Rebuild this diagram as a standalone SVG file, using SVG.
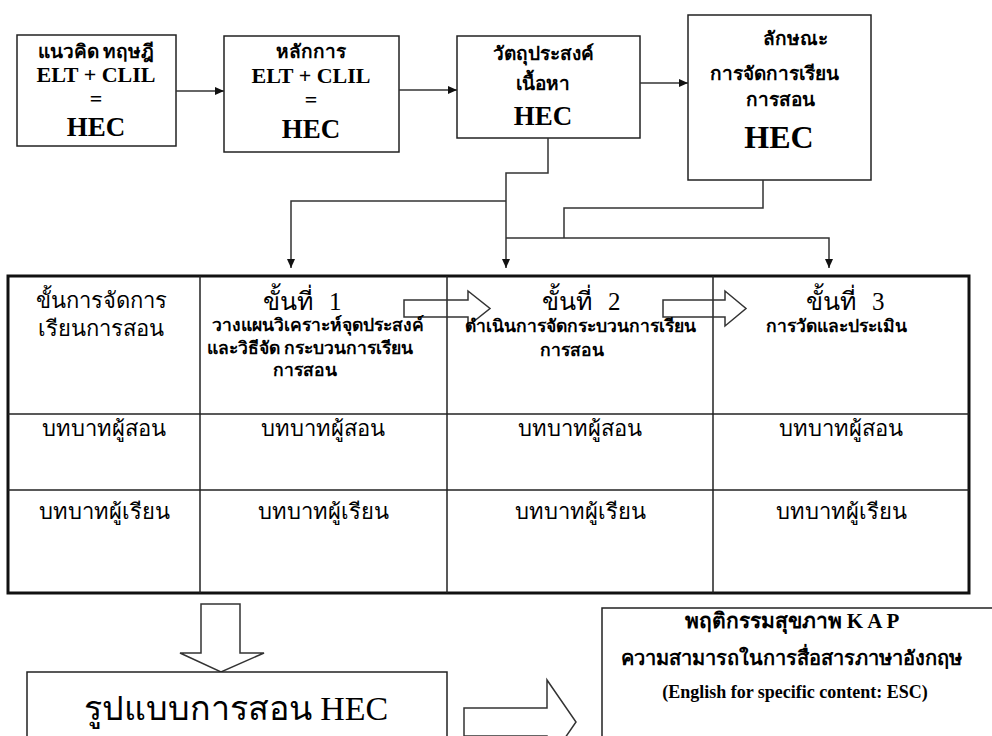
<svg xmlns="http://www.w3.org/2000/svg" width="992" height="736" viewBox="0 0 992 736">
<defs>
<marker id="ah" markerWidth="9" markerHeight="8" refX="9" refY="4" orient="auto" markerUnits="userSpaceOnUse"><path d="M0,0 L9,4 L0,8 Z" fill="#111"/></marker>
</defs>
<style>
.box{fill:#fff;stroke:#222;stroke-width:1.5}
.ln{fill:none;stroke:#333;stroke-width:1.5}
.blk{fill:none;stroke:#333;stroke-width:1.5}
.grid{stroke:#222;stroke-width:1.5}
.outer{fill:none;stroke:#111;stroke-width:3}
.t{font-family:"Liberation Serif","DejaVu Serif",serif;fill:#000;text-anchor:middle}
.b{font-weight:bold}
.th{font-size:19px}
.en{font-size:22px}
.hec{font-size:27px}
.reg{font-size:22px}
.hd{font-size:25px;word-spacing:10px}
.sm{font-size:17.5px}
</style>
<rect width="992" height="736" fill="#fff"/>

<g id="node-theory">
<rect class="box" x="17" y="35" width="159" height="111"/>
<text class="t b th" x="96" y="58">แนวคิด ทฤษฎี</text>
<text class="t b en" x="96" y="82">ELT + CLIL</text>
<text class="t b en" x="96" y="106">=</text>
<text class="t b hec" x="96" y="136">HEC</text>
</g>

<g id="node-principle">
<rect class="box" x="224" y="36" width="175" height="116"/>
<text class="t b th" x="311" y="58">หลักการ</text>
<text class="t b en" x="311" y="83">ELT + CLIL</text>
<text class="t b en" x="311" y="107">=</text>
<text class="t b hec" x="311" y="138">HEC</text>
</g>

<g id="node-objective">
<rect class="box" x="457" y="36" width="183" height="102"/>
<text class="t b th" x="543" y="60">วัตถุประสงค์</text>
<text class="t b th" x="543" y="90">เนื้อหา</text>
<text class="t b hec" x="543" y="125">HEC</text>
</g>

<g id="node-character">
<rect class="box" x="688" y="15" width="183" height="165"/>
<text class="t b th" x="795" y="45">ลักษณะ</text>
<text class="t b th" x="774" y="80">การจัดการเรียน</text>
<text class="t b th" x="780" y="106">การสอน</text>
<text class="t b" x="779" y="148" font-size="32">HEC</text>
</g>

<g id="connectors">
<line class="ln" x1="176" y1="91" x2="224" y2="91" marker-end="url(#ah)"/>
<line class="ln" x1="399" y1="90" x2="457" y2="90" marker-end="url(#ah)"/>
<line class="ln" x1="640" y1="83" x2="688" y2="83" marker-end="url(#ah)"/>
<path class="ln" d="M548,138 V173 H506 V268" marker-end="url(#ah)"/>
<path class="ln" d="M506,201 H291 V268" marker-end="url(#ah)"/>
<path class="ln" d="M763,180 V208 H564 V238"/>
<path class="ln" d="M506,238 H829 V268" marker-end="url(#ah)"/>
<path class="blk" d="M201,604 H240 V653 H264 L221,672 L180,653 H201 Z"/>
<path class="blk" d="M464,708 H547 V680 L576,722 L547,764 V736 H464 Z"/>
</g>

<g id="node-table">
<rect class="outer" x="8" y="276" width="961" height="317"/>
<line class="grid" x1="200" y1="276" x2="200" y2="593"/>
<line class="grid" x1="447" y1="276" x2="447" y2="593"/>
<line class="grid" x1="713" y1="276" x2="713" y2="593"/>
<line class="grid" x1="8" y1="414" x2="969" y2="414"/>
<line class="grid" x1="8" y1="490" x2="969" y2="490"/>
<path class="blk" d="M404,300 H468 V291 L490,308.5 L468,326 V317 H404 Z"/>
<path class="blk" d="M663,300 H725 V291 L746,308.5 L725,326 V317 H663 Z"/>
<text class="t reg" x="101" y="308">ขั้นการจัดการ</text>
<text class="t reg" x="101" y="336">เรียนการสอน</text>
<text class="t hd" x="302" y="310">ขั้นที่ 1</text>
<text class="t b sm" x="318" y="331">วางแผนวิเคราะห์จุดประสงค์</text>
<text class="t b sm" x="310" y="354">และวิธีจัด กระบวนการเรียน</text>
<text class="t b sm" x="305" y="376">การสอน</text>
<text class="t hd" x="581" y="310">ขั้นที่ 2</text>
<text class="t b sm" x="580" y="332">ดำเนินการจัดกระบวนการเรียน</text>
<text class="t b sm" x="572" y="356">การสอน</text>
<text class="t hd" x="845" y="310">ขั้นที่ 3</text>
<text class="t b sm" x="836" y="332">การวัดและประเมิน</text>
<text class="t reg" x="104" y="436">บทบาทผู้สอน</text>
<text class="t reg" x="323" y="436">บทบาทผู้สอน</text>
<text class="t reg" x="580" y="436">บทบาทผู้สอน</text>
<text class="t reg" x="841" y="436">บทบาทผู้สอน</text>
<text class="t reg" x="104" y="519">บทบาทผู้เรียน</text>
<text class="t reg" x="323" y="519">บทบาทผู้เรียน</text>
<text class="t reg" x="580" y="519">บทบาทผู้เรียน</text>
<text class="t reg" x="841" y="519">บทบาทผู้เรียน</text>
</g>

<g id="node-model">
<rect class="box" x="27" y="672" width="420" height="90"/>
<text class="t" x="236" y="720" font-size="34">รูปแบบการสอน HEC</text>
</g>

<g id="node-outcome">
<rect class="box" x="602" y="608" width="400" height="140"/>
<text class="t b" x="792" y="628" font-size="21">พฤติกรรมสุขภาพ K A P</text>
<text class="t b" x="791" y="665" font-size="20">ความสามารถในการสื่อสารภาษาอังกฤษ</text>
<text class="t b" x="795" y="698" font-size="18">(English for specific content: ESC)</text>
</g>
</svg>
